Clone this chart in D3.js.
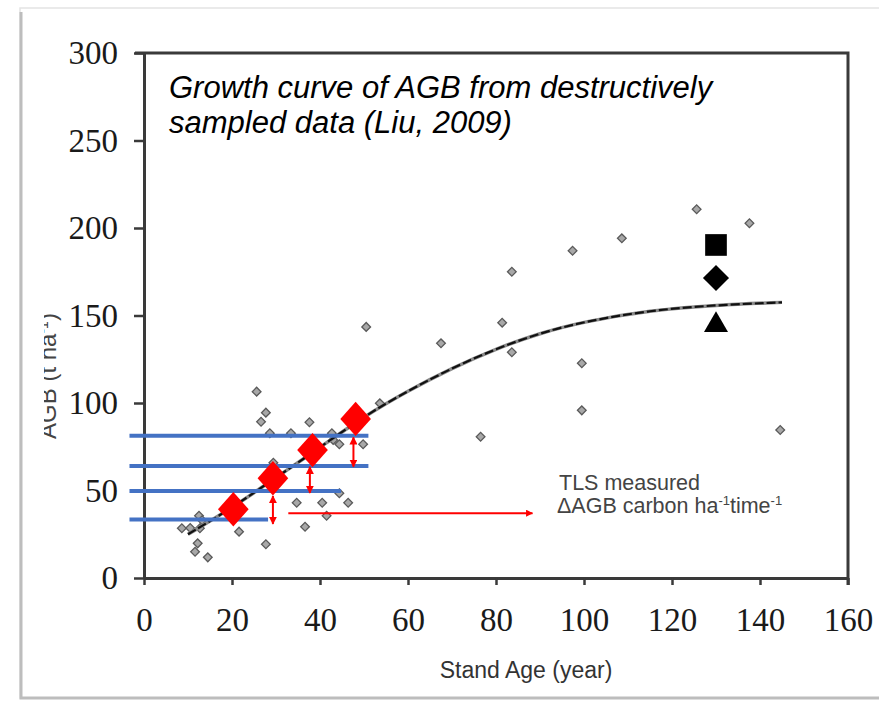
<!DOCTYPE html>
<html>
<head>
<meta charset="utf-8">
<script src="https://cdn.jsdelivr.net/npm/d3@7"></script>
<style>
  body { margin: 0; background: #fff; }
  svg { display: block; }
</style>
</head>
<body>
<svg width="879" height="701"></svg>
<script>
// destructively sampled plots (stand age, AGB)
var sampleAge = [25.6, 27.7, 26.6, 28.6, 33.4, 37.6, 42.7, 44.4, 49.8, 53.6, 29.4, 34.7, 40.5, 44.4, 46.4,
  41.5, 36.6, 27.7, 21.6, 8.6, 12.5, 12.7, 12.2, 11.6, 14.5, 43, 10.5, 13.2,
  125.6, 137.6, 108.6, 97.4, 83.6, 81.4, 83.6, 67.5, 99.5, 50.5, 99.5, 76.5, 144.6];
var sampleAgb = [106.5, 94.5, 89.3, 82.7, 82.7, 89, 82.7, 76.4, 76.4, 99.8, 65.9, 43, 43, 48.4, 43,
  35.6, 29.3, 19.3, 26.5, 28.4, 35.6, 28.4, 19.8, 15, 11.8, 78.9, 28.6, 33,
  210.7, 202.7, 194.1, 187, 175, 145.9, 129, 134.1, 122.7, 143.5, 95.8, 80.7, 84.6];

// fitted growth curve
var curveAge = [10, 20, 28, 38, 50, 60, 70, 80, 90, 100, 115, 130, 145];
var curveAgb = [25, 40, 54, 71, 92.5, 107, 120, 131, 140, 146.5, 153, 156, 157.5];

// TLS estimates (red diamonds)
var tlsAge = [20.3, 29.3, 38.3, 48.1];
var tlsAgb = [39.3, 57, 73.1, 90.9];

// blue reference levels and where they stop
var levelAgb = [81.3, 64, 49.7, 33.5];
var levelEnd = [51, 51, 44.8, 28.2];
var levelStart = -3.3;

// red double arrows between levels
var gapAge = [29.3, 37.7, 47.6];
var gapTop = [46.9, 63.6, 80.4];
var gapBottom = [30.9, 48.6, 63.6];

// black markers at age 130
var markerAge = 130;
var squareAgb = 190.3, diamondAgb = 171.4, triangleAgb = 144.5;

var xTicks = [0, 20, 40, 60, 80, 100, 120, 140, 160];
var yTicks = [0, 50, 100, 150, 200, 250, 300];

var svg = d3.select('svg');

var xScale = d3.scaleLinear().domain([0, 160]).range([144, 848]);
var yScale = d3.scaleLinear().domain([0, 300]).range([578, 53]);

// outer page border
svg.append('rect')
  .attr('x', 20).attr('y', 8).attr('width', 880).attr('height', 690)
  .attr('fill', 'none').attr('stroke', '#e4e4e4').attr('stroke-width', 1.5);
svg.append('path')
  .attr('d', 'M21,12 V698 H879')
  .attr('fill', 'none').attr('stroke', '#bdbdbd').attr('stroke-width', 3);

var defs = svg.append('defs');
defs.append('marker')
  .attr('id', 'head')
  .attr('viewBox', '0 0 10 10')
  .attr('refX', 9).attr('refY', 5)
  .attr('markerWidth', 4).attr('markerHeight', 4)
  .attr('orient', 'auto-start-reverse')
  .append('path').attr('d', 'M0,0 L10,5 L0,10 Z').attr('fill', 'red');
defs.append('clipPath').attr('id', 'yclip')
  .append('rect').attr('x', 44).attr('y', 0).attr('width', 40).attr('height', 701);

// axes + frame
var xAxis = d3.axisBottom(xScale).tickValues(xTicks).tickSize(7).tickPadding(23).tickSizeOuter(0);
var yAxis = d3.axisLeft(yScale).tickValues(yTicks).tickSize(10).tickPadding(16).tickSizeOuter(0);

svg.append('g')
  .attr('transform', 'translate(0,' + yScale(0) + ')')
  .call(xAxis);
svg.append('g')
  .attr('transform', 'translate(' + xScale(0) + ',0)')
  .call(yAxis);

svg.append('path')
  .attr('d', 'M' + (xScale(0) - 9) + ',' + yScale(300) + ' H' + xScale(160) + ' V' + (yScale(0) + 7))
  .attr('fill', 'none').attr('stroke', '#3a3a3a').attr('stroke-width', 3);

svg.selectAll('.domain').attr('stroke', '#3a3a3a').attr('stroke-width', 3);
svg.selectAll('.tick line').attr('stroke', '#3a3a3a').attr('stroke-width', 2.5);
svg.selectAll('.tick text')
  .attr('font-family', '"Liberation Serif", "Times New Roman", serif')
  .attr('font-size', 33)
  .attr('fill', '#1a1a1a');

// axis titles
svg.append('text')
  .attr('x', 526).attr('y', 678)
  .attr('text-anchor', 'middle')
  .attr('font-family', '"Liberation Sans", Arial, sans-serif')
  .attr('font-size', 23).attr('fill', '#333')
  .text('Stand Age (year)');

var yGroup = svg.append('g').attr('clip-path', 'url(#yclip)');
var yt = yGroup.append('text')
  .attr('transform', 'translate(56,376) rotate(-90)')
  .attr('text-anchor', 'middle')
  .attr('font-family', '"Liberation Sans", Arial, sans-serif')
  .attr('font-size', 24).attr('fill', '#444');
yt.append('tspan').text('AGB (t ha');
yt.append('tspan').attr('dy', -8).attr('font-size', 14).text('-1');
yt.append('tspan').attr('dy', 8).text(')');

// sample points
var diamondSmall = d3.symbol().type(d3.symbolSquare).size(38);
svg.append('g').selectAll('path')
  .data(sampleAge)
  .join('path')
  .attr('d', diamondSmall)
  .attr('transform', (d, i) => 'translate(' + xScale(d) + ',' + yScale(sampleAgb[i]) + ') rotate(45)')
  .attr('fill', '#a8a8a8')
  .attr('stroke', '#5a5a5a')
  .attr('stroke-width', 1.3);

// growth curve
var line = d3.line()
  .x((d, i) => xScale(d))
  .y((d, i) => yScale(curveAgb[i]))
  .curve(d3.curveBasis);

svg.append('path')
  .attr('d', line(curveAge))
  .attr('fill', 'none').attr('stroke', '#8a8a8a').attr('stroke-width', 3.5);
svg.append('path')
  .attr('d', line(curveAge))
  .attr('fill', 'none').attr('stroke', '#111').attr('stroke-width', 2.2)
  .attr('stroke-dasharray', '9,3');

// blue levels
svg.append('g').selectAll('line')
  .data(levelAgb)
  .join('line')
  .attr('x1', xScale(levelStart))
  .attr('x2', (d, i) => xScale(levelEnd[i]))
  .attr('y1', d => yScale(d))
  .attr('y2', d => yScale(d))
  .attr('stroke', '#4472c4')
  .attr('stroke-width', 4);

// red diamonds
var diamondBig = d3.symbol().type(d3.symbolSquare).size(470);
svg.append('g').selectAll('path')
  .data(tlsAge)
  .join('path')
  .attr('d', diamondBig)
  .attr('transform', (d, i) => 'translate(' + xScale(d) + ',' + yScale(tlsAgb[i]) + ') scale(1,1.12) rotate(45)')
  .attr('fill', '#ff0000');

// red double arrows
svg.append('g').selectAll('line')
  .data(gapAge)
  .join('line')
  .attr('x1', d => xScale(d))
  .attr('x2', d => xScale(d))
  .attr('y1', (d, i) => yScale(gapTop[i]))
  .attr('y2', (d, i) => yScale(gapBottom[i]))
  .attr('stroke', 'red')
  .attr('stroke-width', 2)
  .attr('marker-start', 'url(#head)')
  .attr('marker-end', 'url(#head)');

// horizontal arrow to annotation
var arrowAge = [32.8, 88.3], arrowAgb = 37;
svg.append('line')
  .attr('x1', xScale(arrowAge[0])).attr('x2', xScale(arrowAge[1]))
  .attr('y1', yScale(arrowAgb)).attr('y2', yScale(arrowAgb))
  .attr('stroke', 'red').attr('stroke-width', 1.8)
  .attr('marker-end', 'url(#head)');

// black markers
svg.append('path')
  .attr('d', d3.symbol().type(d3.symbolSquare).size(470)())
  .attr('transform', 'translate(' + xScale(markerAge) + ',' + yScale(squareAgb) + ')')
  .attr('fill', '#000');
svg.append('path')
  .attr('d', d3.symbol().type(d3.symbolSquare).size(340)())
  .attr('transform', 'translate(' + xScale(markerAge) + ',' + yScale(diamondAgb) + ') rotate(45)')
  .attr('fill', '#000');
svg.append('path')
  .attr('d', d3.symbol().type(d3.symbolTriangle).size(250)())
  .attr('transform', 'translate(' + xScale(markerAge) + ',' + yScale(triangleAgb) + ')')
  .attr('fill', '#000');

// chart title
var title = svg.append('text')
  .attr('font-family', '"Liberation Sans", Arial, sans-serif')
  .attr('font-style', 'italic')
  .attr('font-size', 31)
  .attr('fill', '#000');
title.append('tspan').attr('x', 169).attr('y', 98).text('Growth curve of AGB from destructively');
title.append('tspan').attr('x', 169).attr('y', 133).text('sampled data (Liu, 2009)');

// TLS annotation
var note = svg.append('text')
  .attr('font-family', '"Liberation Sans", Arial, sans-serif')
  .attr('font-size', 21.5)
  .attr('fill', '#444');
note.append('tspan').attr('x', 559).attr('y', 490).text('TLS measured');
note.append('tspan').attr('x', 557).attr('y', 513).text('ΔAGB carbon ha');
note.append('tspan').attr('dy', -8).attr('font-size', 13).text('-1');
note.append('tspan').attr('dy', 8).text('time');
note.append('tspan').attr('dy', -8).attr('font-size', 13).text('-1');
</script>
</body>
</html>
